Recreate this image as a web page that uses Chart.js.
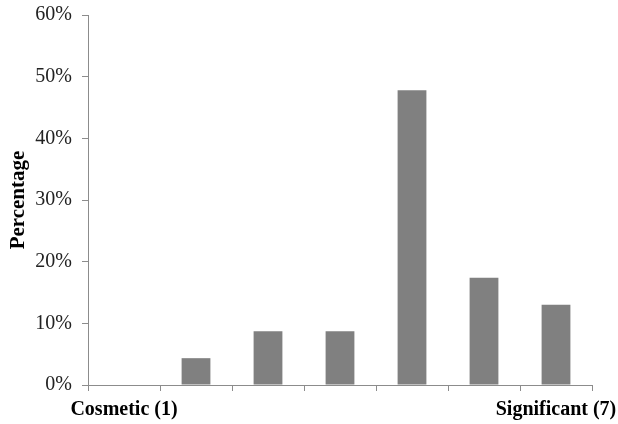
<!DOCTYPE html>
<html>
<head>
<meta charset="utf-8">
<script src="https://cdn.jsdelivr.net/npm/chart.js@4"></script>
<style>
  html, body { margin: 0; padding: 0; background: #fff; }
  #wrap { width: 618px; height: 424px; }
</style>
</head>
<body>
<div id="wrap"><canvas id="chart" width="618" height="424"></canvas></div>
<script>
// ---- data ----
const categories = ["Cosmetic (1)", "", "", "", "", "", "Significant (7)"];
const percentages = [0, 4.35, 8.7, 8.7, 47.8, 17.4, 13.0];
const yTicks = [0, 10, 20, 30, 40, 50, 60];

const axisGray = "#8c8c8c";
const fontFamily = "'Liberation Serif', 'Times New Roman', serif";

const ctx = document.getElementById("chart").getContext("2d");
new Chart(ctx, {
    type: "bar",
    data: {
        labels: categories,
        datasets: [{
            data: percentages,
            backgroundColor: "#808080",
            borderWidth: 0,
            barPercentage: 0.4,
            categoryPercentage: 1.0
        }]
    },
    options: {
        responsive: false,
        animation: false,
        layout: { padding: { top: 15, right: 26, left: 0, bottom: 0 } },
        plugins: {
            legend: { display: false },
            tooltip: { enabled: false }
        },
        scales: {
            x: {
                grid: { drawOnChartArea: false, drawTicks: true, tickLength: 6, color: axisGray, offset: true },
                border: { color: axisGray, width: 1 },
                afterFit: axis => {
                    axis.height = 39;
                    axis.paddingLeft = 0;
                    axis.paddingRight = 0;
                },
                ticks: {
                    autoSkip: false,
                    maxRotation: 0,
                    padding: 7,
                    color: "#000",
                    font: { family: fontFamily, size: 20, weight: "bold" }
                }
            },
            y: {
                min: 0,
                max: 60,
                afterBuildTicks: axis => { axis.ticks = yTicks.map(v => ({ value: v })); },
                afterFit: axis => {
                    axis.width = 88;
                    axis.paddingTop = 0;
                    axis.paddingBottom = 0;
                },
                grid: { drawOnChartArea: false, drawTicks: true, tickLength: 6, color: axisGray },
                border: { color: axisGray, width: 1 },
                title: {
                    display: true,
                    text: "Percentage",
                    color: "#000",
                    padding: { top: 6, bottom: 0 },
                    font: { family: fontFamily, size: 21, weight: "bold" }
                },
                ticks: {
                    padding: 10,
                    color: "#222",
                    font: { family: fontFamily, size: 20 },
                    callback: v => v + "%"
                }
            }
        }
    }
});
</script>
</body>
</html>
